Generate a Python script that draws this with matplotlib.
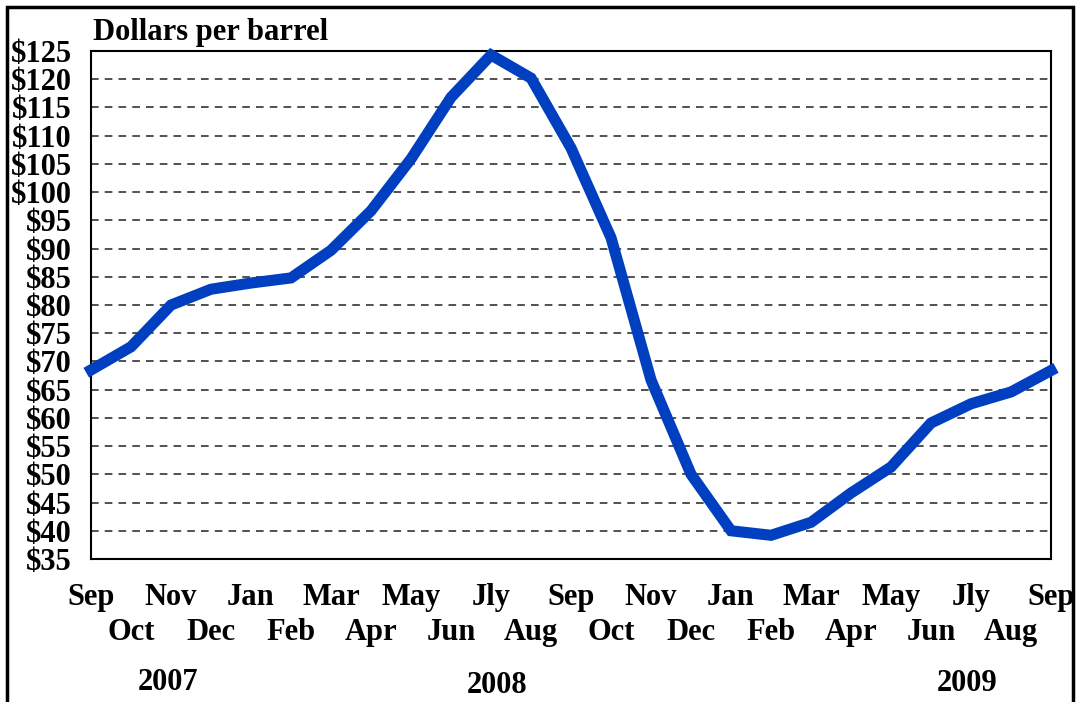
import matplotlib
matplotlib.use('Agg')
import matplotlib.pyplot as plt
from matplotlib.patches import Rectangle

# Monthly oil price, Sep 2007 - Sep 2009
months = ['Sep', 'Oct', 'Nov', 'Dec', 'Jan', 'Feb', 'Mar', 'Apr', 'May', 'Jun', 'Jly', 'Aug',
          'Sep', 'Oct', 'Nov', 'Dec', 'Jan', 'Feb', 'Mar', 'Apr', 'May', 'Jun', 'Jly', 'Aug', 'Sep']
prices = [68.5, 72.6, 80.0, 82.8, 83.9, 84.8, 89.7, 96.7, 105.9, 116.8, 124.3, 120.2,
          107.8, 91.9, 66.7, 50.0, 40.0, 39.2, 41.5, 46.7, 51.3, 59.1, 62.5, 64.6, 68.4]
years = ['2007', '2008', '2009']
year_pos = [1.93, 10.15, 21.9]
year_y = [-0.258, -0.264, -0.26]
yticks = list(range(35, 130, 5))

plt.rcParams['font.family'] = 'Liberation Serif'
plt.rcParams['font.weight'] = 'bold'

fig = plt.figure(figsize=(10.8, 7.02), dpi=100)
ax = fig.add_axes([0.0843, 0.2037, 0.8889, 0.7236])

x = list(range(len(months)))
ax.plot(x, prices, color='#0040C0', linewidth=8, solid_joinstyle='miter', clip_on=False, zorder=3)

ax.set_xlim(0, len(months) - 1)
ax.set_ylim(35, 125)
ax.set_yticks(yticks)
ax.set_yticklabels([f'${v}' for v in yticks], fontsize=22, fontweight='bold')
for v in yticks[1:-1]:
    ax.axhline(v, color='#222222', linestyle=(0, (5, 4)), linewidth=1.1, zorder=1)

# month labels in two staggered rows
ax.set_xticks([])
trans = ax.get_xaxis_transform()
for i, m in enumerate(months):
    yy = -0.0906 if i % 2 == 0 else -0.1594
    ax.text(i, yy, m, transform=trans, ha='center', va='baseline', fontsize=22, fontweight='bold')
ax.tick_params(axis='both', length=0)
ax.tick_params(axis='y', pad=14)

for s in ax.spines.values():
    s.set_linewidth(1.5)
    s.set_color('black')

for yr, xp, yp in zip(years, year_pos, year_y):
    ax.text(xp, yp, yr, transform=trans, ha='center', va='baseline',
            fontsize=22, fontweight='bold')

fig.text(93 / 1080, 1 - 40 / 702, 'Dollars per barrel', fontsize=22, fontweight='bold',
         ha='left', va='baseline')

# outer frame
fig.patches.append(Rectangle((7 / 1080, -0.05), 1066 / 1080, 1.05 - 7 / 702, transform=fig.transFigure,
                             fill=False, edgecolor='black', linewidth=2.5))

fig.savefig('out.png', dpi=100)
